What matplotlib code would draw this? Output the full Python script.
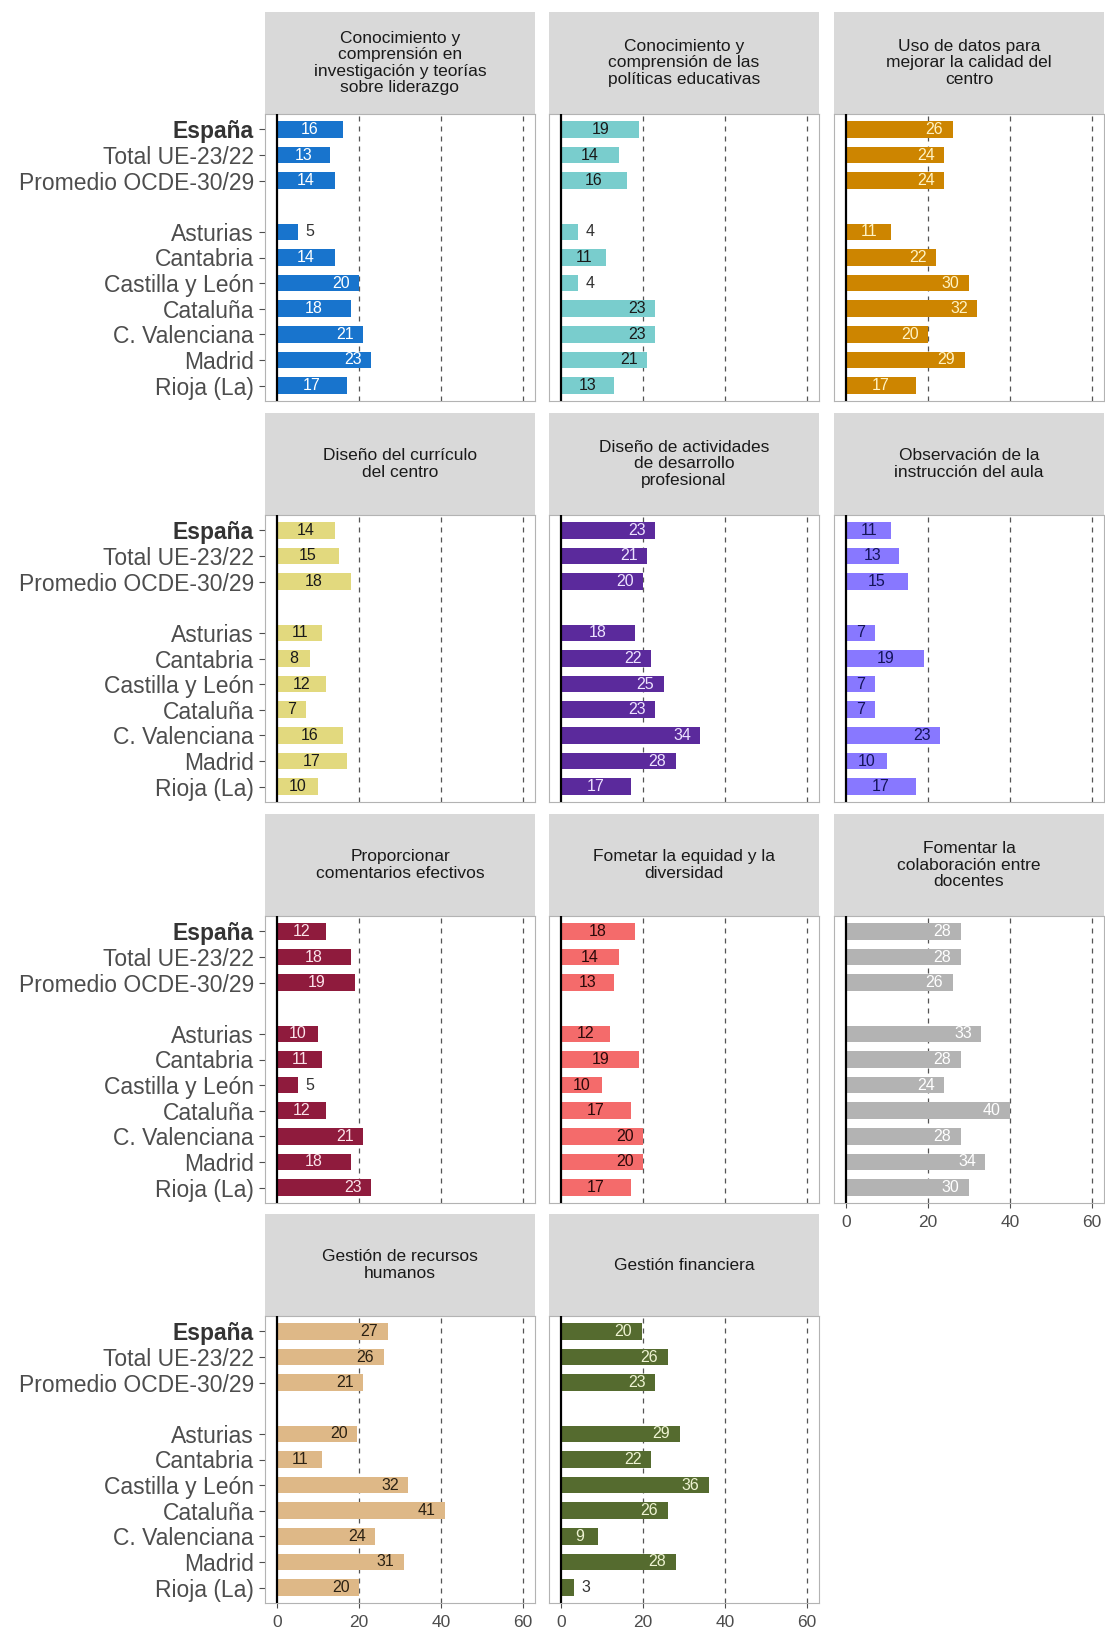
import matplotlib
matplotlib.use("Agg")
import matplotlib.pyplot as plt

plt.rcParams['font.family'] = ['Liberation Sans', 'DejaVu Sans']

# ---------------- data ----------------
categories = ["España", "Total UE-23/22", "Promedio OCDE-30/29",
              "Asturias", "Cantabria", "Castilla y León", "Cataluña",
              "C. Valenciana", "Madrid", "Rioja (La)"]

titles = [
    "Conocimiento y\ncomprensión en\ninvestigación y teorías\nsobre liderazgo",
    "Conocimiento y\ncomprensión de las\npolíticas educativas",
    "Uso de datos para\nmejorar la calidad del\ncentro",
    "Diseño del currículo\ndel centro",
    "Diseño de actividades\nde desarrollo\nprofesional",
    "Observación de la\ninstrucción del aula",
    "Proporcionar\ncomentarios efectivos",
    "Fometar la equidad y la\ndiversidad",
    "Fomentar la\ncolaboración entre\ndocentes",
    "Gestión de recursos\nhumanos",
    "Gestión financiera",
]

liderazgo = [16, 13, 14, 5, 14, 20, 18, 21, 23, 17]
politicas = [19, 14, 16, 4, 11, 4, 23, 23, 21, 13]
uso_datos = [26, 24, 24, 11, 22, 30, 32, 20, 29, 17]
curriculo = [14, 15, 18, 11, 8, 12, 7, 16, 17, 10]
desarrollo = [23, 21, 20, 18, 22, 25, 23, 34, 28, 17]
observacion = [11, 13, 15, 7, 19, 7, 7, 23, 10, 17]
comentarios = [12, 18, 19, 10, 11, 5, 12, 21, 18, 23]
equidad = [18, 14, 13, 12, 19, 10, 17, 20, 20, 17]
colaboracion = [28, 28, 26, 33, 28, 24, 40, 28, 34, 30]
recursos_humanos = [27, 26, 21, 19.6, 11, 32, 41, 24, 31, 20]
financiera = [19.7, 26, 23, 29, 22, 36, 26, 9, 28, 3]

series = [liderazgo, politicas, uso_datos, curriculo, desarrollo, observacion,
          comentarios, equidad, colaboracion, recursos_humanos, financiera]

bar_colors = ["#1874CD", "#79CDCD", "#CD8500", "#E2D97E", "#5B2A9C", "#8878FF",
              "#8F1B3D", "#F46B6B", "#B3B3B3", "#DEB887", "#556B2F"]
label_colors = ["#FFFFFF", "#1A1A1A", "#FFF3C4", "#1A1A1A", "#EDE3FF", "#14145A",
                "#FBE3EA", "#2B0A0A", "#FFFFFF", "#2B2113", "#EEF3D2"]

x_ticks = [0, 20, 40, 60]

# ---------------- layout ----------------
W, H = 1105, 1632
fig = plt.figure(figsize=(W / 100, H / 100), dpi=100)
fig.patch.set_facecolor("white")


def rect(x, y, w, h):
    return [x / W, 1 - (y + h) / H, w / W, h / H]


col_x = [265, 549, 834]
row_y = [12, 413, 814, 1214]
pw, sh, ph = 270, 102, 287

ypos = [i + (1 if i >= 3 else 0) for i in range(len(categories))]
bottom_panels = {8, 9, 10}

for k, (vals, title) in enumerate(zip(series, titles)):
    r, c = divmod(k, 3)
    # strip
    sax = fig.add_axes(rect(col_x[c], row_y[r], pw, sh))
    sax.set_facecolor("#D9D9D9")
    sax.set_xticks([]); sax.set_yticks([])
    for s in sax.spines.values():
        s.set_visible(False)
    sax.text(0.5, 0.5, title, ha="center", va="center", fontsize=12.5,
             color="#1A1A1A", linespacing=1.1, transform=sax.transAxes)

    # panel
    ax = fig.add_axes(rect(col_x[c], row_y[r] + sh, pw, ph))
    ax.set_facecolor("white")
    for xv in x_ticks[1:]:
        ax.axvline(xv, color="#555555", lw=0.9, ls=(0, (4, 4)), zorder=0.5)
    ax.barh(ypos, vals, height=0.65, color=bar_colors[k], zorder=2)
    ax.axvline(0, color="black", lw=1.6, zorder=3)
    for y, v in zip(ypos, vals):
        lab = str(int(round(v)))
        if v <= 5:
            ax.text(v + 3, y, lab, ha="center", va="center", fontsize=11.5,
                    color="#333333", zorder=4)
        elif v < 19.5:
            ax.text(v / 2, y, lab, ha="center", va="center", fontsize=11.5,
                    color=label_colors[k], zorder=4)
        else:
            ax.text(v - 4.5, y, lab, ha="center", va="center", fontsize=11.5,
                    color=label_colors[k], zorder=4)
    ax.set_xlim(-3, 63)
    ax.set_ylim(10.6, -0.6)
    for s in ax.spines.values():
        s.set_color("#B3B3B3")
        s.set_linewidth(0.8)

    ax.set_xticks(x_ticks)
    if k in bottom_panels:
        ax.tick_params(axis="x", length=3.5, width=0.8, color="#4D4D4D",
                       labelsize=12.5, labelcolor="#4D4D4D", pad=5)
    else:
        ax.tick_params(axis="x", length=0, labelbottom=False)

    if c == 0:
        ax.set_yticks(ypos)
        ax.set_yticklabels(categories, fontsize=16.5, color="#4D4D4D")
        ax.tick_params(axis="y", length=4, width=0.8, color="#4D4D4D", pad=4)
        first = ax.get_yticklabels()[0]
        first.set_fontweight("bold")
        first.set_color("#333333")
    else:
        ax.set_yticks([])

fig.savefig("out.png", dpi=100, facecolor="white")
